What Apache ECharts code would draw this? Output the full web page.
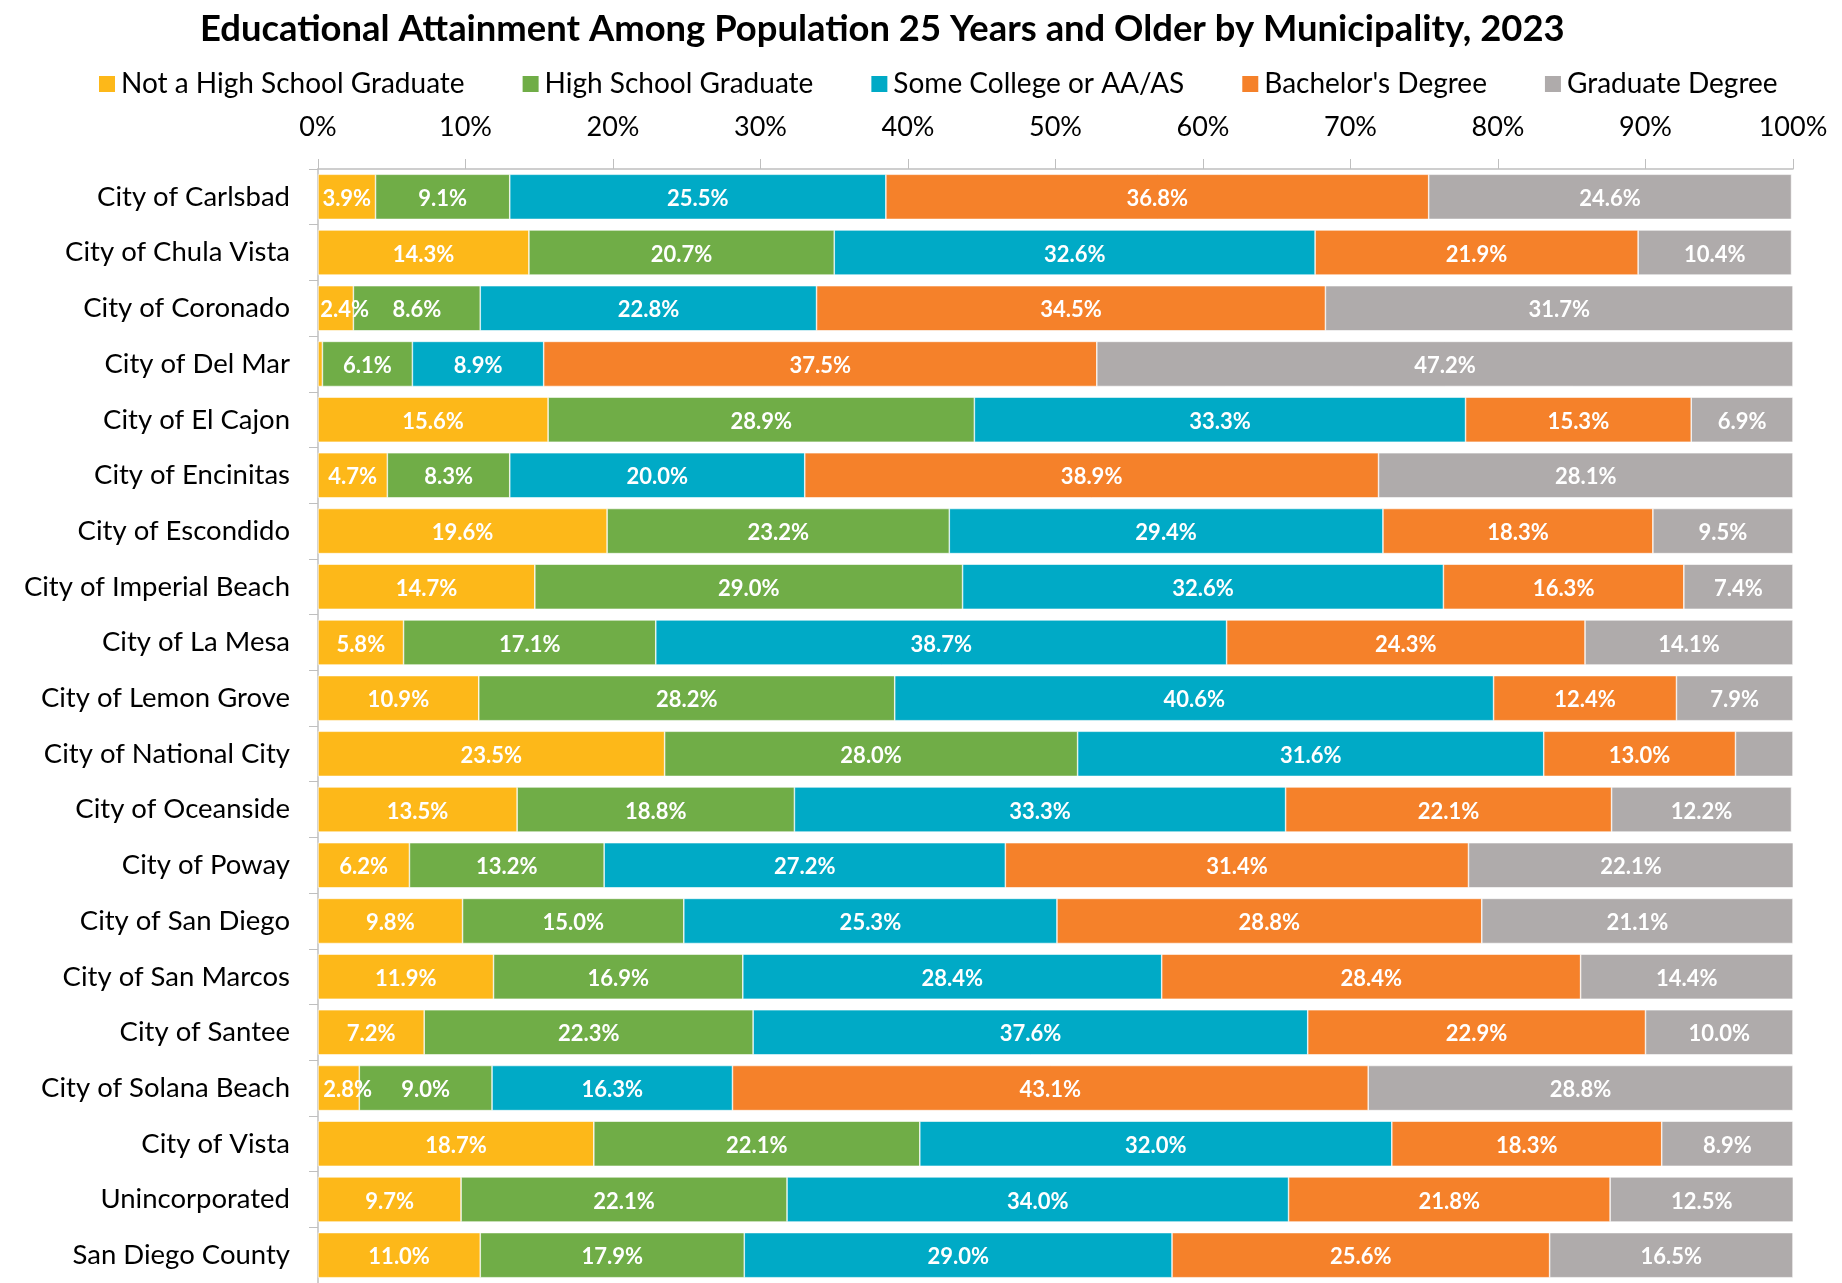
<!DOCTYPE html>
<html>
<head>
<meta charset="utf-8">
<script src="https://cdn.jsdelivr.net/npm/echarts@6/dist/echarts.min.js"></script>
<style>
  html, body { margin: 0; padding: 0; background: #fff; }
  #chart { width: 1842px; height: 1283px; }
</style>
</head>
<body>
<div id="chart"></div>
<script>
const municipalities = [
  'City of Carlsbad', 'City of Chula Vista', 'City of Coronado', 'City of Del Mar',
  'City of El Cajon', 'City of Encinitas', 'City of Escondido', 'City of Imperial Beach',
  'City of La Mesa', 'City of Lemon Grove', 'City of National City', 'City of Oceanside',
  'City of Poway', 'City of San Diego', 'City of San Marcos', 'City of Santee',
  'City of Solana Beach', 'City of Vista', 'Unincorporated', 'San Diego County'
]

const seriesNames = [
  'Not a High School Graduate', 'High School Graduate', 'Some College or AA/AS',
  "Bachelor's Degree", 'Graduate Degree'
]

const notHighSchool = [3.9, 14.3, 2.4, 0.3, 15.6, 4.7, 19.6, 14.7, 5.8, 10.9, 23.5, 13.5, 6.2, 9.8, 11.9, 7.2, 2.8, 18.7, 9.7, 11.0]
const highSchool = [9.1, 20.7, 8.6, 6.1, 28.9, 8.3, 23.2, 29.0, 17.1, 28.2, 28.0, 18.8, 13.2, 15.0, 16.9, 22.3, 9.0, 22.1, 22.1, 17.9]
const someCollege = [25.5, 32.6, 22.8, 8.9, 33.3, 20.0, 29.4, 32.6, 38.7, 40.6, 31.6, 33.3, 27.2, 25.3, 28.4, 37.6, 16.3, 32.0, 34.0, 29.0]
const bachelors = [36.8, 21.9, 34.5, 37.5, 15.3, 38.9, 18.3, 16.3, 24.3, 12.4, 13.0, 22.1, 31.4, 28.8, 28.4, 22.9, 43.1, 18.3, 21.8, 25.6]
const graduate = [24.6, 10.4, 31.7, 47.2, 6.9, 28.1, 9.5, 7.4, 14.1, 7.9, 3.9, 12.2, 22.1, 21.1, 14.4, 10.0, 28.8, 8.9, 12.5, 16.5]

// [series index, category index] of segments drawn without a label
const hiddenLabels = [[0, 3], [4, 10]]
// narrow first segments whose label is pushed right so it stays inside the plot
const nudgedLabels = [[0, 2], [0, 16]]

const colors = ['#FDB819', '#70AD47', '#00AAC6', '#F5812A', '#AFABAB']
const allValues = [notHighSchool, highSchool, someCollege, bachelors, graduate]

const chart = echarts.init(document.getElementById('chart'))

function inList(list, s, i) {
  return list.some(h => h[0] === s && h[1] === i)
}

const series = allValues.map((values, s) => ({
  name: seriesNames[s],
  type: 'bar',
  stack: 'total',
  barCategoryGap: '19%',
  itemStyle: { color: colors[s], borderColor: '#ffffff', borderWidth: 0.6 },
  label: {
    show: true,
    position: 'inside',
    color: '#ffffff',
    fontFamily: 'Lato',
    fontWeight: 'bold',
    fontSize: 22,
    offset: [0, 2],
    formatter: p => p.value.toFixed(1) + '%'
  },
  data: values.map((v, i) => {
    if (inList(hiddenLabels, s, i)) return { value: v, label: { show: false } }
    if (inList(nudgedLabels, s, i)) return { value: v, label: { offset: [9, 2] } }
    return v
  })
}))

chart.setOption({
  animation: false,
  color: colors,
  title: {
    text: 'Educational Attainment Among Population 25 Years and Older by Municipality, 2023',
    left: 195,
    top: 6,
    textStyle: { fontFamily: 'Lato', fontWeight: 'bold', fontSize: 36.4, color: '#000' }
  },
  legend: {
    top: 65,
    left: 92,
    itemWidth: 18,
    itemHeight: 18,
    itemGap: 56,
    icon: 'rect',
    textStyle: { fontFamily: 'Lato', fontSize: 28, color: '#000' },
    data: seriesNames
  },
  grid: { left: 318, right: 49, top: 169, bottom: -3 },
  xAxis: {
    type: 'value',
    position: 'top',
    min: 0,
    max: 100,
    interval: 10,
    axisLine: { show: true, lineStyle: { color: '#BFBFBF', width: 1.5 } },
    axisTick: { show: true, length: 10, lineStyle: { color: '#BFBFBF' } },
    splitLine: { show: false },
    axisLabel: {
      formatter: '{value}%',
      fontFamily: 'Lato',
      fontSize: 27,
      color: '#000',
      margin: 28
    }
  },
  yAxis: {
    type: 'category',
    inverse: true,
    data: municipalities,
    axisLine: { show: true, lineStyle: { color: '#BFBFBF', width: 1.5 } },
    axisTick: { show: true, length: 9, lineStyle: { color: '#BFBFBF' } },
    axisLabel: { fontFamily: 'Lato', fontSize: 27.5, color: '#000', margin: 28 }
  },
  series: series
})
</script>
</body>
</html>
